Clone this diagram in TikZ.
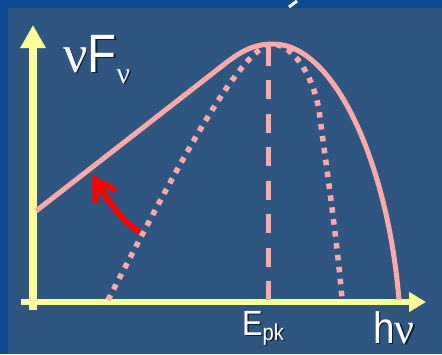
\documentclass[tikz,border=0pt]{standalone}
\usepackage{fontspec}
\setmainfont{Liberation Sans}[FakeStretch=0.88]
\newfontfamily\greekfont{Liberation Serif}
\usepackage{tikz}
\usetikzlibrary{arrows.meta,positioning}
\usepackage{xcolor}
\definecolor{slideblue}{RGB}{14,74,145}
\definecolor{panelblue}{RGB}{46,86,128}
\definecolor{axisyellow}{RGB}{255,255,153}
\definecolor{specpink}{RGB}{255,170,170}
\definecolor{shadowblue}{RGB}{16,30,52}
\newcommand{\shadowed}[1]{\rlap{\kern1.5pt\raisebox{-1.5pt}{\color{shadowblue}#1}}#1}

\begin{document}
\begin{tikzpicture}[
    x=1pt, y=-1pt,
    spec/.style={specpink, line width=5pt},
    dotspec/.style={specpink, line width=5.5pt, dash pattern=on 5.5pt off 6.5pt},
    peakline/.style={specpink, line width=5pt, dash pattern=on 19pt off 14.5pt},
    shiftarrow/.style={-{Straight Barb[length=20pt,width=24pt]}, red, line width=6pt},
    lbl/.style={text=white, inner sep=0pt, anchor=base west}
]
\clip (0,0) rectangle (442,354);
% slide background
\fill[slideblue] (0,0) rectangle (442,354);
\fill[panelblue] (8,8) rectangle (442,354);
\draw[white, line width=3pt] (289,7) -- (297,1);

% axes
\coordinate (ybot) at (33,310);
\coordinate (ytop) at (33,25);
\coordinate (xleft) at (21,302);
\coordinate (xright) at (426,302);
\draw[axisyellow, line width=8pt, -{Triangle[length=23pt,width=24pt]}] (ybot) -- (ytop);
\draw[axisyellow, line width=6pt, -{Triangle[length=17pt,width=19pt]}] (xleft) -- (xright);

% spectra
\coordinate (peak) at (273,44);
\coordinate (peakfoot) at (268,300);
\coordinate (peaktop) at (268,44);
\coordinate (lowstart) at (108,300);
\coordinate (shiftfrom) at (140,232);
\coordinate (shiftto) at (92,175);
\draw[peakline] (peakfoot) -- (peaktop);
\draw[dotspec] (lowstart) .. controls (168,185) and (240,44) .. (peak)
               .. controls (296,46) and (314,80) .. (319,110)
               .. controls (324,150) and (336,230) .. (342,298);
\draw[spec] (36,211) -- (222,66) .. controls (242,50) and (255,44) .. (peak)
            .. controls (335,44) and (388,165) .. (399,300);
\draw[shiftarrow] (shiftfrom) .. controls (122,222) and (108,200) .. (shiftto);

% labels
\node[lbl] (yname) at (63,72) {\shadowed{\fontsize{54}{60}\selectfont{\greekfont ν}F\raisebox{-11pt}{\fontsize{30}{32}\selectfont\greekfont ν}}};
\node[lbl] (epk) at (242,335) {\shadowed{\fontsize{35}{40}\selectfont E\raisebox{-5pt}{\fontsize{23}{25}\selectfont pk}}};
\node[lbl] (xname) at (373,343) {\shadowed{\fontsize{44}{48}\selectfont h{\greekfont ν}}};
\end{tikzpicture}
\end{document}
